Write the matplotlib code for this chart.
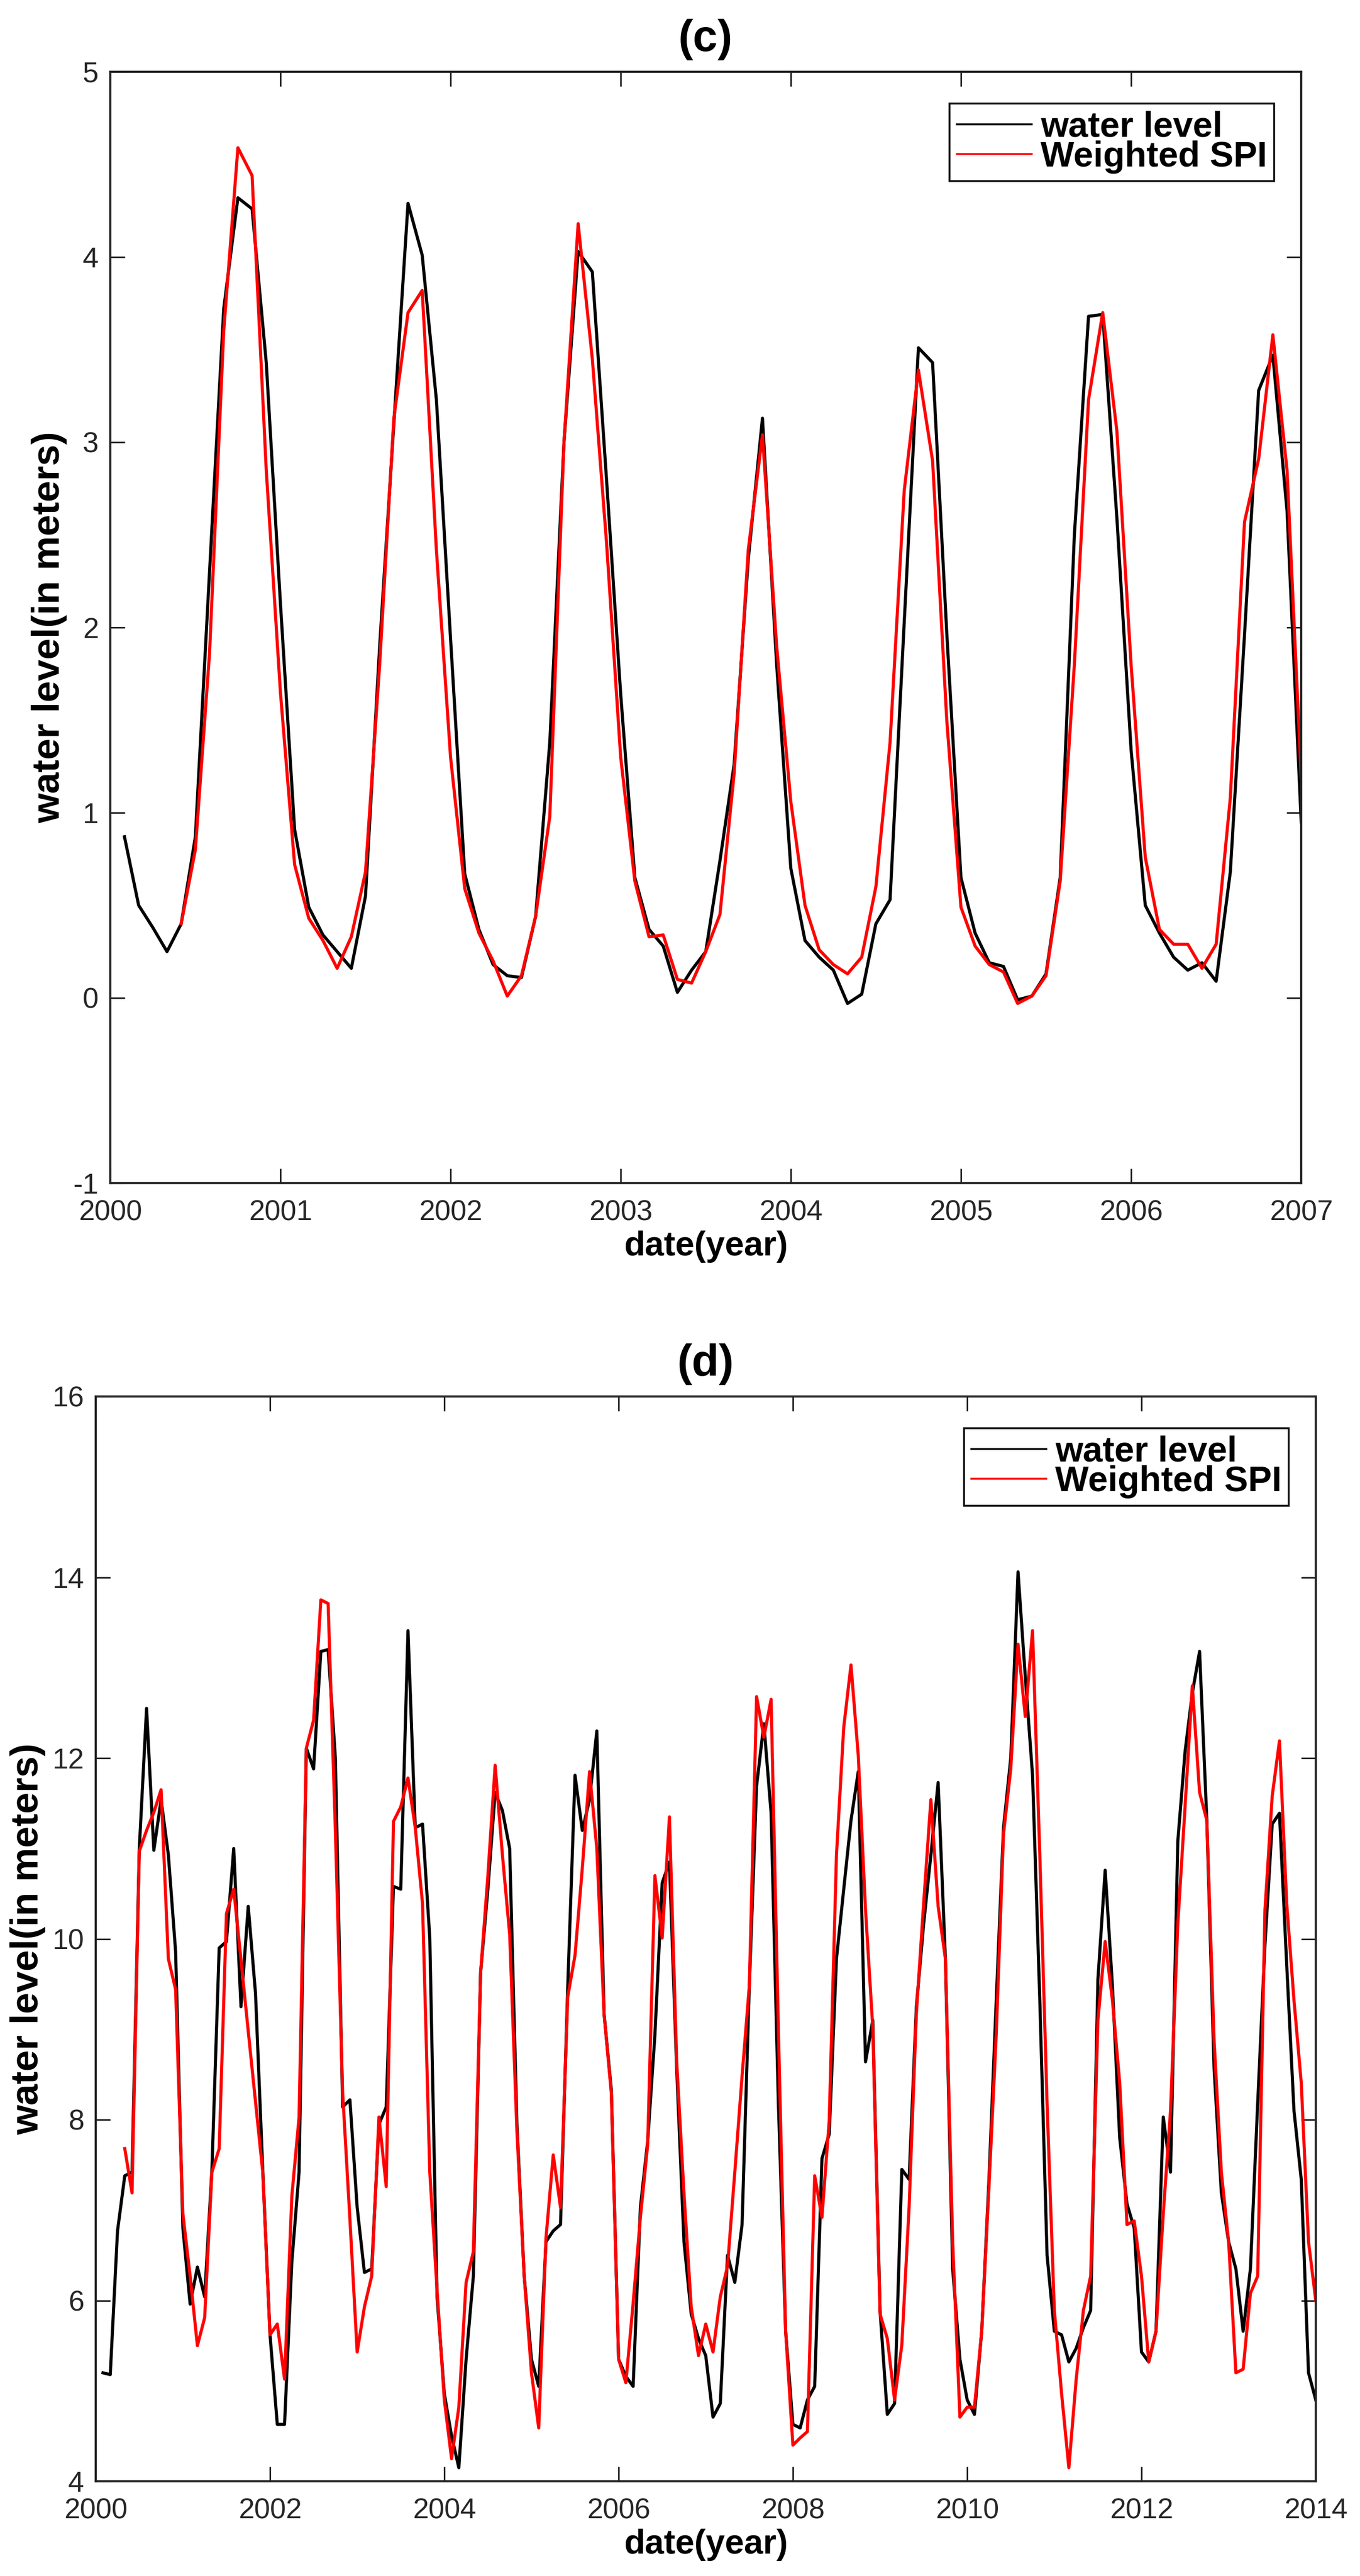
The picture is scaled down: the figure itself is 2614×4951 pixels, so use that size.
import numpy as np
import matplotlib
matplotlib.use("Agg")
import matplotlib.pyplot as plt
from matplotlib import font_manager

# ---------------- data ----------------
# panel (c): monthly values, month index counted from Jan 2000
c_level_months = list(range(1, 85))
c_level = [0.87, 0.50, 0.38, 0.25, 0.40, 0.87, 2.30, 3.72, 4.32, 4.26, 3.43, 2.13,
           0.91, 0.49, 0.34, 0.25, 0.16, 0.55, 1.90, 3.10, 4.29, 4.01, 3.23, 1.94,
           0.67, 0.37, 0.18, 0.12, 0.11, 0.44, 1.38, 3.00, 4.03, 3.92, 2.80, 1.64,
           0.65, 0.37, 0.28, 0.03, 0.15, 0.25, 0.74, 1.26, 2.37, 3.13, 1.80, 0.70,
           0.31, 0.22, 0.15, -0.03, 0.02, 0.40, 0.53, 2.03, 3.51, 3.43, 1.97, 0.65,
           0.35, 0.19, 0.17, -0.01, 0.01, 0.13, 0.65, 2.50, 3.68, 3.69, 2.59, 1.34,
           0.50, 0.35, 0.22, 0.15, 0.19, 0.09, 0.68, 1.96, 3.28, 3.47, 2.63, 0.95]
c_spi_months = list(range(5, 85))
c_spi = [0.40, 0.80, 1.86, 3.60, 4.59, 4.44, 2.85, 1.65,
         0.72, 0.43, 0.31, 0.16, 0.33, 0.68, 1.80, 3.13, 3.70, 3.82, 2.42, 1.30,
         0.59, 0.35, 0.20, 0.01, 0.12, 0.44, 0.98, 3.00, 4.18, 3.45, 2.46, 1.30,
         0.63, 0.33, 0.34, 0.10, 0.08, 0.25, 0.45, 1.21, 2.42, 3.04, 1.90, 1.06,
         0.50, 0.26, 0.18, 0.13, 0.22, 0.60, 1.38, 2.74, 3.39, 2.90, 1.50, 0.49,
         0.28, 0.18, 0.14, -0.03, 0.01, 0.12, 0.63, 1.80, 3.23, 3.70, 3.06, 1.80,
         0.76, 0.37, 0.29, 0.29, 0.16, 0.29, 1.08, 2.57, 2.91, 3.58, 2.85, 1.19]

# panel (d)
d_level_months = list(range(1, 169))
d_level = [5.20, 5.18, 6.77, 7.38, 7.42, 11.00, 12.55, 10.98, 11.54, 10.93, 9.86, 6.80,
           5.96, 6.37, 6.04, 7.45, 9.90, 9.97, 11.00, 9.25, 10.36, 9.40, 7.45, 5.62,
           4.63, 4.63, 6.42, 7.42, 12.11, 11.88, 13.18, 13.20, 12.00, 8.14, 8.22, 7.03,
           6.31, 6.35, 7.95, 8.14, 10.58, 10.55, 13.41, 11.23, 11.27, 10.01, 6.04, 4.97,
           4.50, 4.15, 5.35, 6.27, 9.63, 10.55, 11.62, 11.42, 11.00, 7.95, 6.27, 5.35,
           5.05, 6.65, 6.77, 6.84, 9.48, 11.81, 11.20, 11.54, 12.30, 9.17, 8.33, 5.35,
           5.16, 5.05, 7.03, 7.76, 8.94, 10.62, 10.85, 8.56, 6.65, 5.85, 5.58, 5.39,
           4.71, 4.86, 6.50, 6.20, 6.84, 9.48, 11.69, 12.38, 11.39, 8.18, 5.66, 4.63,
           4.59, 4.90, 5.05, 7.57, 7.84, 9.78, 10.55, 11.31, 11.85, 8.64, 9.10, 5.89,
           4.74, 4.86, 7.45, 7.34, 9.25, 10.16, 10.93, 11.73, 9.78, 6.35, 5.35, 4.90,
           4.74, 5.66, 7.34, 9.32, 11.23, 12.00, 14.06, 12.90, 11.81, 9.32, 6.50, 5.66,
           5.62, 5.32, 5.47, 5.70, 5.89, 9.55, 10.76, 9.48, 7.80, 7.07, 6.80, 5.43,
           5.32, 5.66, 8.03, 7.42, 11.08, 12.07, 12.72, 13.18, 11.31, 8.56, 7.19, 6.65,
           6.35, 5.66, 6.35, 8.18, 9.93, 11.27, 11.39, 9.71, 8.10, 7.34, 5.20, 4.90]
d_spi_months = list(range(4, 169))
d_spi = [7.68, 7.19, 10.97, 11.20, 11.40, 11.65, 9.78, 9.44, 6.96,
         6.27, 5.50, 5.81, 7.42, 7.68, 10.28, 10.55, 9.77, 8.98, 8.20, 7.42, 5.62,
         5.74, 5.13, 7.15, 8.03, 12.11, 12.42, 13.75, 13.71, 11.20, 8.30, 6.90, 5.43,
         5.93, 6.27, 8.03, 7.26, 11.30, 11.46, 11.78, 11.23, 10.39, 7.42, 6.12, 4.90,
         4.25, 4.82, 6.20, 6.54, 9.63, 10.70, 11.92, 10.93, 10.05, 7.87, 6.27, 5.20,
         4.59, 6.69, 7.61, 7.03, 9.36, 9.82, 10.78, 11.85, 11.00, 9.17, 8.29, 5.35,
         5.09, 5.97, 6.92, 7.72, 10.70, 10.01, 11.35, 8.64, 7.19, 5.93, 5.39, 5.74,
         5.43, 6.04, 6.38, 7.42, 8.48, 9.48, 12.68, 12.23, 12.65, 9.00, 5.66, 4.40,
         4.48, 4.55, 7.38, 6.92, 7.99, 10.93, 12.34, 13.03, 12.03, 10.32, 9.02, 5.85,
         5.58, 4.90, 5.51, 7.03, 9.17, 10.39, 11.54, 10.36, 9.78, 6.65, 4.71, 4.82,
         4.82, 5.66, 7.26, 8.94, 11.16, 11.88, 13.26, 12.46, 13.41, 10.93, 8.18, 5.89,
         4.97, 4.15, 5.12, 5.89, 6.27, 9.10, 9.97, 9.32, 8.41, 6.84, 6.88, 6.27,
         5.32, 5.66, 6.96, 8.10, 10.16, 11.46, 12.80, 11.62, 11.31, 8.87, 7.42, 6.65,
         5.20, 5.24, 6.08, 6.27, 10.32, 11.58, 12.19, 10.39, 9.32, 8.41, 6.65, 6.00]

c_yticks = [-1, 0, 1, 2, 3, 4, 5]
c_xticks = [2000, 2001, 2002, 2003, 2004, 2005, 2006, 2007]
d_yticks = [4, 6, 8, 10, 12, 14, 16]
d_xticks = [2000, 2002, 2004, 2006, 2008, 2010, 2012, 2014]
series_names = ['water level', 'Weighted SPI']

# ---------------- fonts ----------------
def have(name):
    try:
        font_manager.findfont(font_manager.FontProperties(family=name),
                              fallback_to_default=False)
        return True
    except Exception:
        return False

narrow = 'Liberation Sans Narrow' if have('Liberation Sans Narrow') else 'Liberation Sans'
k = 1.0 if narrow == 'Liberation Sans Narrow' else 0.88
plt.rcParams['font.family'] = [narrow, 'DejaVu Sans']
plt.rcParams['axes.unicode_minus'] = False

W, H, DPI = 2614, 4951, 100
fig = plt.figure(figsize=(W / DPI, H / DPI), dpi=DPI)


def px_axes(l, r, t, b):
    return fig.add_axes([l / W, 1 - b / H, (r - l) / W, (b - t) / H])


def to_year(months):
    return 2000 + np.array(months) / 12.0


def style(ax, xticks, yticks, ylim, title, ylab_x, xlab_y, leg_xy):
    ax.set_xlim(xticks[0], xticks[-1])
    ax.set_ylim(*ylim)
    ax.set_xticks(xticks)
    ax.set_yticks(yticks)
    ax.set_xticklabels([str(t) for t in xticks])
    ax.set_yticklabels([str(t) for t in yticks])
    for s in ax.spines.values():
        s.set_linewidth(3.0)
        s.set_color('#222222')
    ax.tick_params(direction='in', length=20, width=2.2, color='#222222',
                   top=True, right=True, labelsize=45 * k, labelcolor='#262626')
    ax.tick_params(axis='x', pad=23)
    ax.tick_params(axis='y', pad=16)
    ax.set_title(title, fontsize=70 * k, fontweight='bold', pad=29)
    ax.set_xlabel('date(year)', fontsize=54 * k, fontweight='bold')
    ax.xaxis.set_label_coords(0.5, xlab_y)
    ax.set_ylabel('water level(in meters)', fontsize=53, fontweight='bold',
                  family=['Liberation Sans', 'DejaVu Sans'])
    ax.yaxis.set_label_coords(ylab_x, 0.5)
    leg = ax.legend(loc='upper right', bbox_to_anchor=leg_xy, borderaxespad=0,
                    fancybox=False, framealpha=1, edgecolor='#111111',
                    prop={'size': 56 * k, 'weight': 'bold'},
                    handlelength=2.1, handletextpad=0.25, borderpad=0.2,
                    labelspacing=-0.1)
    leg.get_frame().set_linewidth(2.6)
    for ln in leg.get_lines():
        ln.set_linewidth(2.6)


# panel (c)
ax1 = px_axes(212, 2501, 138, 2274)
ax1.plot(to_year(c_level_months), c_level, color='black', lw=4.3, label=series_names[0])
ax1.plot(to_year(c_spi_months), c_spi, color='#ff0000', lw=4.3, label=series_names[1])
style(ax1, c_xticks, c_yticks, (-1, 5), '(c)',
      (129 - 212) / 2289, -(2365 - 2274) / 2136,
      ((2449 - 212) / 2289, 1 - (199 - 138) / 2136))

# panel (d)
ax2 = px_axes(184, 2529, 2684, 4769)
ax2.plot(to_year(d_level_months), d_level, color='black', lw=4.3, label=series_names[0])
ax2.plot(to_year(d_spi_months), d_spi, color='#ff0000', lw=4.3, label=series_names[1])
style(ax2, d_xticks, d_yticks, (4, 16), '(d)',
      (88 - 184) / 2345, -(2860 - 2769) / 2085,
      ((2477 - 184) / 2345, 1 - (2745 - 2684) / 2085))

fig.savefig('out.png', dpi=DPI, facecolor='white')
